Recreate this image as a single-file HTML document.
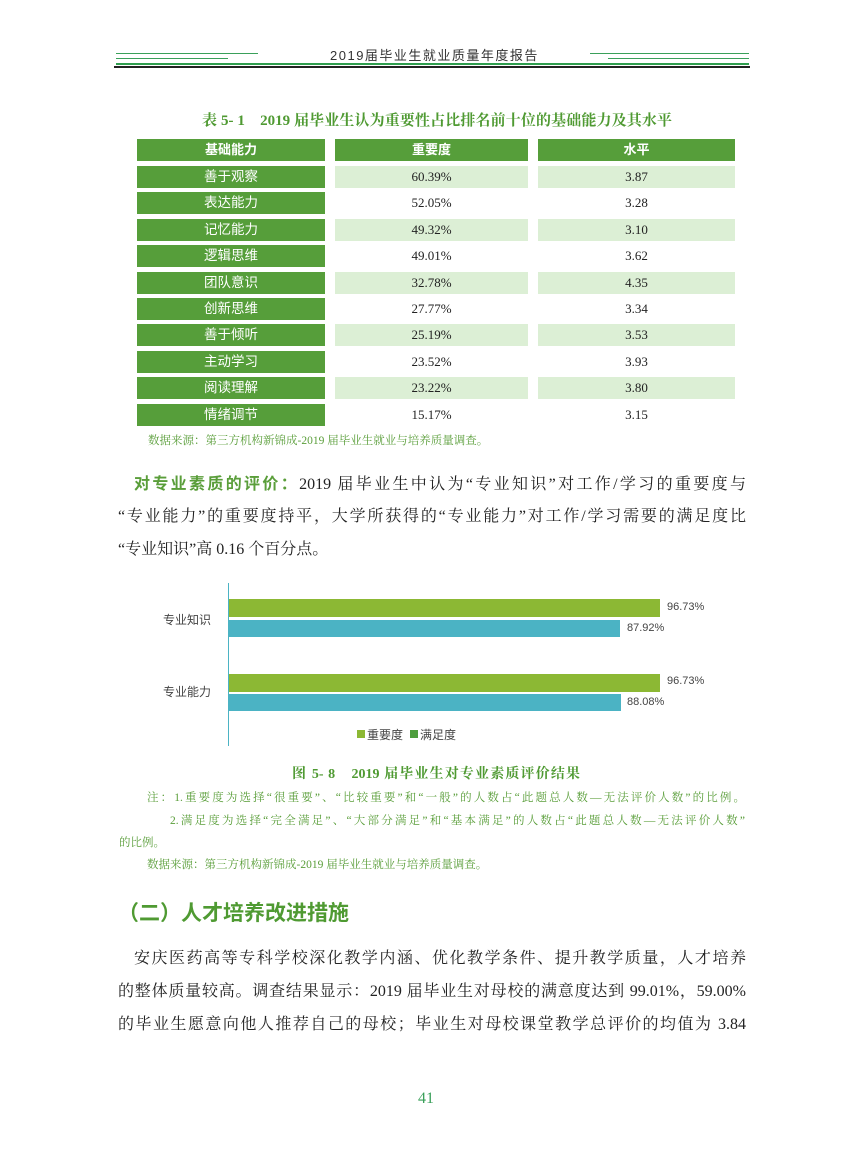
<!DOCTYPE html>
<html><head><meta charset="utf-8"><style>
body{margin:0;width:849px;height:1152px;background:#fff;position:relative;overflow:hidden;font-family:"Liberation Serif","Noto Serif CJK SC",serif;}
.a{position:absolute;white-space:nowrap;}
.j{white-space:normal;text-align:justify;text-align-last:justify;}
.cell{position:absolute;height:22px;line-height:22px;text-align:center;font-size:13px;color:#222;}
.g{background:#569e3a;color:#fff;}
.l{background:#dcefd5;}
.w{background:#fff;}
.hd{font-family:"Liberation Sans","Noto Sans CJK SC",sans-serif;font-weight:bold;}
.lbl{color:#fff;font-size:13.5px;font-family:"Liberation Sans","Noto Sans CJK SC",sans-serif;}
.p{font-size:16px;color:#222;}
.note{font-size:11.5px;color:#5a9e3a;font-family:"Liberation Serif","Noto Serif CJK SC",serif;}
.cs{font-family:"Liberation Sans","Noto Sans CJK SC",sans-serif;font-size:11px;color:#444;}
</style></head><body>
<div class="a" style="left:116px;top:53px;width:142px;height:1px;background:#3aa05a"></div>
<div class="a" style="left:116px;top:58px;width:112px;height:1px;background:#3aa05a"></div>
<div class="a" style="left:590px;top:53px;width:159px;height:1px;background:#3aa05a"></div>
<div class="a" style="left:608px;top:58px;width:141px;height:1px;background:#3aa05a"></div>
<div class="a" style="left:116px;top:63px;width:633px;height:2px;background:#2f9e4e"></div>
<div class="a" style="left:114px;top:66px;width:636px;height:2px;background:#222"></div>
<div class="a" style="left:330px;top:45px;font-size:13px;letter-spacing:1.5px;color:#333;font-family:'Liberation Sans','Noto Sans CJK SC',sans-serif">2019届毕业生就业质量年度报告</div>
<div class="a hd j" style="left:202px;top:109px;width:470px;font-size:15px;color:#4f9a32;font-family:'Liberation Serif','Noto Serif CJK SC',serif">表 5- 1　2019 届毕业生认为重要性占比排名前十位的基础能力及其水平</div>
<div class="cell g hd" style="left:137px;top:139px;width:188px;">基础能力</div>
<div class="cell g hd" style="left:335px;top:139px;width:193px;">重要度</div>
<div class="cell g hd" style="left:538px;top:139px;width:197px;">水平</div>
<div id="rows"></div>
<script>
var d=[["善于观察","60.39%","3.87"],["表达能力","52.05%","3.28"],["记忆能力","49.32%","3.10"],["逻辑思维","49.01%","3.62"],["团队意识","32.78%","4.35"],["创新思维","27.77%","3.34"],["善于倾听","25.19%","3.53"],["主动学习","23.52%","3.93"],["阅读理解","23.22%","3.80"],["情绪调节","15.17%","3.15"]];
var h="";for(var i=0;i<d.length;i++){var t=166+i*26.4;var c=i%2==0?"l":"w";
h+='<div class="cell g lbl" style="left:137px;top:'+t+'px;width:188px;">'+d[i][0]+'</div>';
h+='<div class="cell '+c+'" style="left:335px;top:'+t+'px;width:193px;">'+d[i][1]+'</div>';
h+='<div class="cell '+c+'" style="left:538px;top:'+t+'px;width:197px;">'+d[i][2]+'</div>';}
document.getElementById("rows").innerHTML=h;
</script>
<div class="a note" style="left:148px;top:432px;">数据来源：第三方机构新锦成-2019 届毕业生就业与培养质量调查。</div>
<div class="a p j" style="top:470px;left:134px;width:612px"><span style="color:#5a9e3a;font-weight:bold;font-family:'Liberation Sans','Noto Sans CJK SC',sans-serif">对专业素质的评价：</span>2019 届毕业生中认为“专业知识”对工作/学习的重要度与</div>
<div class="a p j" style="top:503px;left:118px;width:628px">“专业能力”的重要度持平，大学所获得的“专业能力”对工作/学习需要的满足度比</div>
<div class="a p" style="top:536px;left:118px">“专业知识”高 0.16 个百分点。</div>
<div class="a" style="left:228px;top:583px;width:1px;height:163px;background:#4bb3c4"></div>
<div class="a" style="left:229px;top:599px;width:431px;height:18px;background:#8cb834"></div>
<div class="a" style="left:229px;top:620px;width:391px;height:17px;background:#4bb3c4"></div>
<div class="a" style="left:229px;top:674px;width:431px;height:18px;background:#8cb834"></div>
<div class="a" style="left:229px;top:694px;width:392px;height:17px;background:#4bb3c4"></div>
<div class="a cs" style="left:667px;top:601px">96.73%</div>
<div class="a cs" style="left:627px;top:622px">87.92%</div>
<div class="a cs" style="left:667px;top:675px">96.73%</div>
<div class="a cs" style="left:627px;top:696px">88.08%</div>
<div class="a cs" style="left:163px;top:611px;font-size:12px">专业知识</div>
<div class="a cs" style="left:163px;top:683px;font-size:12px">专业能力</div>
<div class="a" style="left:357px;top:730px;width:8px;height:8px;background:#8cb834"></div>
<div class="a cs" style="left:367px;top:726px;font-size:12px">重要度</div>
<div class="a" style="left:410px;top:730px;width:8px;height:8px;background:#4e9e3e"></div>
<div class="a cs" style="left:420px;top:726px;font-size:12px">满足度</div>
<div class="a hd j" style="left:292px;top:763px;width:288px;font-size:14px;color:#4f9a32;font-family:'Liberation Serif','Noto Serif CJK SC',serif">图 5- 8　2019 届毕业生对专业素质评价结果</div>
<div class="a note j" style="left:147px;top:789px;width:598px">注：1.重要度为选择“很重要”、“比较重要”和“一般”的人数占“此题总人数—无法评价人数”的比例。</div>
<div class="a note j" style="left:170px;top:812px;width:575px">2.满足度为选择“完全满足”、“大部分满足”和“基本满足”的人数占“此题总人数—无法评价人数”</div>
<div class="a note" style="left:119px;top:834px">的比例。</div>
<div class="a note" style="left:147px;top:856px">数据来源：第三方机构新锦成-2019 届毕业生就业与培养质量调查。</div>
<div class="a" style="left:118px;top:897px;font-size:21px;font-weight:bold;color:#4f9a32;font-family:'Liberation Sans','Noto Sans CJK SC',sans-serif">（二）人才培养改进措施</div>
<div class="a p j" style="top:945px;left:134px;width:612px">安庆医药高等专科学校深化教学内涵、优化教学条件、提升教学质量，人才培养</div>
<div class="a p j" style="top:978px;left:118px;width:628px">的整体质量较高。调查结果显示：2019 届毕业生对母校的满意度达到 99.01%，59.00%</div>
<div class="a p j" style="top:1011px;left:118px;width:628px">的毕业生愿意向他人推荐自己的母校；毕业生对母校课堂教学总评价的均值为 3.84</div>
<div class="a" style="left:418px;top:1090px;font-size:16px;color:#3aa05a">41</div>
</body></html>
